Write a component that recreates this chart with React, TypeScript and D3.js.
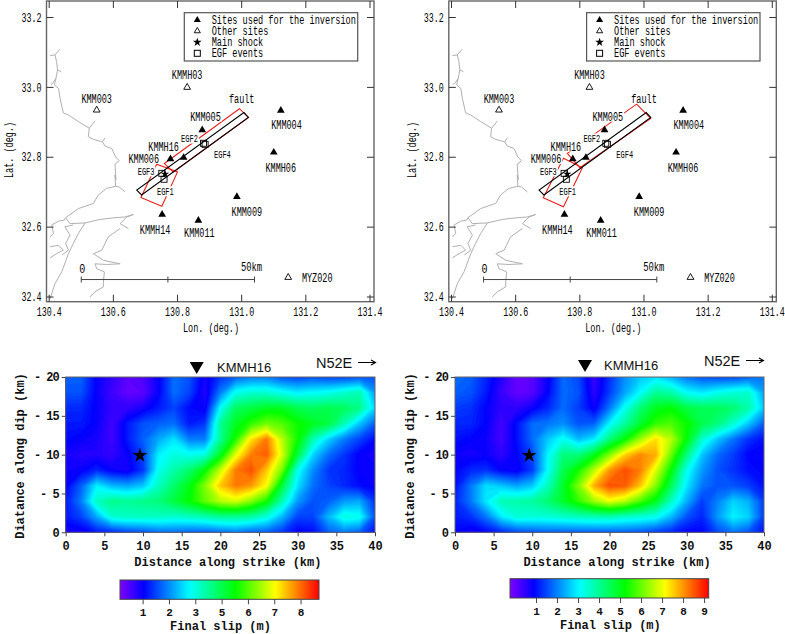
import React, { useEffect, useRef } from "react";
import * as d3 from "d3";

// sites: name, lon, lat, label offset x, label offset y (px)
const usedSites: [string, number, number, number, number][] = [
  ["KMM005", 130.877, 32.878, 3.3, -13.3],
  ["KMM004", 131.122, 32.934, 5.7, 14],
  ["KMMH06", 131.1, 32.814, 7, 15],
  ["KMMH16", 130.819, 32.799, -20, -11],
  ["KMM006", 130.778, 32.795, -26.7, 0],
  ["KMM009", 130.985, 32.687, 10, 14.7],
  ["KMMH14", 130.752, 32.636, -7, 15],
  ["KMM011", 130.865, 32.619, 1, 12],
];
const otherSites: [string, number, number, number, number][] = [
  ["KMM003", 130.548, 32.935, 0, -11.7],
  ["KMMH03", 130.83, 33.0, 0, -13],
  ["MYZ020", 131.145, 32.456, 29, 0],
];
const egfEvents: [string, number, number, number, number][] = [
  ["EGF1", 130.758, 32.737, 1.3, 12],
  ["EGF2", 130.881, 32.84, -14, -4.7],
  ["EGF3", 130.751, 32.754, -15.7, -2],
  ["EGF4", 130.886, 32.837, 17.3, 9.7],
];
const mainShock = [130.761, 32.752];
const faultBox = [[130.673, 32.706], [130.688, 32.692], [131.021, 32.914], [131.007, 32.928]];
const asperityLeftA = [[130.759, 32.782], [130.993, 32.939], [131.021, 32.914], [130.787, 32.758]];
const asperityLeftB = [[130.735, 32.78], [130.8, 32.758], [130.751, 32.66], [130.686, 32.685]];
const asperityRightA = [[130.761, 32.811], [130.977, 32.952], [131.021, 32.911], [130.8, 32.77]];
const asperityRightB = [[130.749, 32.797], [130.808, 32.77], [130.749, 32.658], [130.686, 32.684]];

const legendLabels = ["Sites used for the inversion", "Other sites", "Main shock", "EGF events"];
const lonTicks = [130.4, 130.6, 130.8, 131.0, 131.2, 131.4];
const latTicks = [32.4, 32.6, 32.8, 33.0, 33.2];

// coastline traces, lon/lat
const coastNorth = [
  [130.433, 33.109], [130.418, 33.093], [130.423, 33.074], [130.426, 33.05], [130.421, 33.026],
  [130.416, 33.007], [130.429, 32.997], [130.434, 32.968], [130.444, 32.927], [130.46, 32.921],
  [130.491, 32.902], [130.525, 32.883], [130.522, 32.859], [130.538, 32.851], [130.566, 32.844],
  [130.574, 32.832], [130.595, 32.825], [130.607, 32.801], [130.618, 32.79], [130.605, 32.78],
  [130.608, 32.736], [130.605, 32.749], [130.607, 32.717], [130.618, 32.715], [130.636, 32.701],
];
const coastNorthBits = [
  [[130.418, 33.093], [130.403, 33.091]],
  [[130.426, 33.05], [130.437, 33.045]],
  [[130.421, 33.026], [130.41, 33.011], [130.405, 33.009]],
  [[130.525, 32.883], [130.543, 32.904]],
  [[130.566, 32.844], [130.574, 32.856]],
];
const coastBay = [
  [130.607, 32.717], [130.579, 32.711], [130.553, 32.692], [130.538, 32.668], [130.491, 32.653],
  [130.451, 32.627], [130.447, 32.62], [130.429, 32.617], [130.408, 32.606], [130.413, 32.582], [130.403, 32.572],
];
const coastAmakusa = [
  [130.451, 32.627], [130.465, 32.61], [130.512, 32.612], [130.558, 32.622], [130.605, 32.627],
  [130.636, 32.629], [130.662, 32.636], [130.642, 32.629], [130.621, 32.61], [130.647, 32.596],
];
const coastWest = [
  [130.512, 32.612], [130.491, 32.582], [130.475, 32.553], [130.46, 32.524], [130.439, 32.472],
  [130.418, 32.438], [130.403, 32.395],
];
const coastIsle = [
  [130.475, 32.606], [130.449, 32.601], [130.465, 32.577], [130.451, 32.553], [130.46, 32.534], [130.44, 32.52],
];
const coastIslet = [
  [130.403, 32.544], [130.429, 32.548], [130.444, 32.534], [130.423, 32.524], [130.403, 32.512],
];
const coastSouth = [
  [130.621, 32.596], [130.584, 32.572], [130.564, 32.534], [130.538, 32.524], [130.569, 32.505],
  [130.621, 32.495], [130.579, 32.493], [130.543, 32.495], [130.548, 32.481], [130.572, 32.472],
  [130.569, 32.443], [130.569, 32.429], [130.543, 32.415], [130.527, 32.4],
];
const coastLines = [coastNorth, ...coastNorthBits, coastBay, coastAmakusa, coastWest, coastIsle, coastIslet, coastSouth];

// final slip on a 2 km grid, rows from 20 km dip down to 0, columns 0 to 40 km along strike
const slipLeft = [
  [1.7, 1.7, 1.0, 0.7, 0.4, 0.5, 1.0, 1.8, 1.6, 0.9, 1.4, 1.7, 1.9, 1.9, 1.6, 1.5, 1.6, 1.5, 1.5, 1.6, 1.6],
  [1.6, 1.6, 1.0, 0.6, 0.35, 0.4, 1.0, 1.8, 1.5, 0.8, 1.9, 2.9, 3.1, 3.1, 2.9, 2.7, 2.8, 2.9, 3.1, 3.3, 2.1],
  [1.3, 1.3, 1.0, 0.7, 0.7, 0.9, 1.2, 1.5, 1.1, 0.95, 2.8, 3.9, 4.1, 4.3, 4.3, 4.0, 3.9, 4.0, 3.9, 3.6, 2.5],
  [1.2, 1.2, 1.0, 0.6, 1.2, 1.6, 1.7, 1.8, 1.2, 1.4, 3.5, 4.3, 4.8, 5.2, 5.0, 4.6, 4.3, 4.1, 3.3, 2.4, 1.7],
  [1.1, 1.0, 0.9, 0.6, 1.2, 1.7, 2.2, 2.6, 1.9, 1.9, 3.5, 4.7, 6.2, 6.9, 5.6, 4.6, 3.3, 2.5, 1.9, 1.5, 1.1],
  [0.9, 0.8, 0.8, 0.7, 1.0, 1.5, 2.7, 3.0, 2.9, 3.0, 4.3, 5.9, 6.9, 7.1, 5.8, 4.1, 2.5, 1.8, 1.4, 1.0, 0.9],
  [0.95, 1.0, 1.3, 1.0, 0.9, 1.4, 2.9, 3.4, 3.8, 4.5, 5.7, 6.9, 7.2, 6.4, 5.2, 2.9, 2.0, 1.4, 1.3, 1.0, 1.0],
  [1.0, 1.7, 2.7, 2.3, 2.2, 2.4, 3.2, 3.8, 4.4, 5.3, 6.4, 6.9, 6.7, 6.0, 4.1, 2.6, 1.8, 1.5, 1.3, 1.1, 1.0],
  [1.2, 1.9, 3.2, 3.6, 3.5, 3.6, 3.7, 4.1, 4.5, 5.1, 5.6, 5.8, 5.3, 4.6, 3.3, 2.1, 1.6, 1.7, 2.1, 2.2, 1.4],
  [1.2, 1.5, 2.2, 3.1, 3.2, 3.2, 3.2, 3.1, 3.2, 3.3, 3.5, 3.5, 3.4, 3.0, 2.3, 1.5, 1.5, 2.3, 3.0, 2.9, 1.6],
  [0.9, 0.9, 1.2, 1.3, 1.5, 1.6, 1.8, 1.8, 1.7, 1.7, 1.8, 1.9, 1.7, 1.7, 1.4, 1.0, 1.1, 1.7, 1.9, 1.7, 1.1],
];
const slipRight = [
  [1.8, 1.7, 1.2, 0.6, 0.0, 0.1, 0.8, 1.8, 1.5, 0.4, 1.3, 2.1, 2.6, 2.8, 2.4, 1.9, 1.6, 1.5, 1.5, 1.7, 1.9],
  [1.7, 1.6, 1.1, 0.4, 0.0, 0.1, 0.9, 1.8, 1.6, 0.5, 1.4, 2.3, 3.1, 4.0, 3.8, 3.1, 2.9, 3.2, 3.4, 3.5, 2.3],
  [1.4, 1.3, 0.9, 0.5, 0.5, 0.8, 1.2, 1.8, 1.4, 0.8, 1.9, 3.2, 4.3, 5.0, 5.2, 4.7, 4.5, 4.5, 4.3, 3.8, 2.6],
  [1.2, 1.2, 0.9, 0.3, 1.0, 1.8, 1.9, 2.1, 1.6, 1.7, 3.0, 3.9, 4.8, 5.6, 5.8, 5.3, 4.6, 4.2, 3.5, 2.6, 1.7],
  [1.0, 0.9, 0.8, 0.3, 1.0, 1.8, 2.6, 3.2, 2.5, 2.9, 4.2, 5.2, 6.4, 7.4, 6.6, 5.2, 3.5, 2.6, 1.9, 1.3, 1.0],
  [0.8, 0.7, 0.8, 0.5, 0.9, 1.5, 3.0, 4.2, 4.2, 5.0, 6.2, 7.5, 8.1, 7.8, 6.0, 4.2, 2.6, 1.8, 1.4, 0.9, 0.8],
  [0.9, 1.2, 1.3, 0.9, 0.8, 1.4, 3.1, 4.6, 5.4, 6.6, 8.0, 8.6, 8.2, 6.9, 5.2, 3.2, 2.2, 1.6, 1.3, 1.0, 0.9],
  [1.0, 1.9, 2.8, 2.6, 2.3, 2.6, 3.6, 4.9, 6.2, 7.8, 8.6, 8.5, 7.6, 6.2, 4.5, 2.9, 1.9, 1.6, 1.6, 1.4, 1.0],
  [1.2, 1.9, 2.9, 3.7, 3.8, 3.9, 4.3, 4.9, 5.6, 6.4, 7.0, 6.6, 5.8, 5.0, 3.6, 2.4, 1.4, 2.0, 2.7, 2.4, 1.4],
  [1.1, 1.3, 1.9, 2.9, 3.4, 3.4, 3.4, 3.5, 3.6, 3.7, 3.7, 3.5, 3.4, 3.2, 2.5, 1.6, 1.2, 2.2, 3.0, 2.7, 1.4],
  [0.9, 0.7, 0.9, 1.2, 1.5, 1.6, 1.7, 1.7, 1.7, 1.7, 1.7, 1.7, 1.6, 1.4, 1.2, 0.9, 0.9, 1.5, 1.9, 1.6, 1.0],
];

const strikeTicks = [0, 5, 10, 15, 20, 25, 30, 35, 40];
const dipTicks = [0, 5, 10, 15, 20];
// the left colour bar really is labelled 1 2 3 5 6 7 8
const barTicksLeft = [1, 2, 3, 4, 5, 6, 7];
const barLabelsLeft = ["1", "2", "3", "5", "6", "7", "8"];
const barTicksRight = [1, 2, 3, 4, 5, 6, 7, 8, 9];
const barLabelsRight = ["1", "2", "3", "4", "5", "6", "7", "8", "9"];
const rampStops = [0, 0.12, 0.35, 0.58, 0.78, 1];
const rampColors = ["#8000ff", "#0000ff", "#00ffff", "#00ff00", "#ffff00", "#ff0000"];

const FRAME = "#666";
const MONO = "'Liberation Mono', monospace";
const SANS = "'Liberation Sans', Arial, sans-serif";

type Sel = d3.Selection<any, any, any, any>;

const squeezed = (g: Sel, s: string, x: number, y: number, size = 12, anchor = "middle", adv = 5.1) =>
  g.append("text").attr("x", x).attr("y", y).attr("dy", "0.35em").attr("text-anchor", anchor)
    .attr("font-family", MONO).attr("font-size", size)
    .attr("textLength", s.length * adv).attr("lengthAdjust", "spacingAndGlyphs").text(s);

function drawMap(svg: Sel, dx: number, frameRight: number, boxes: number[][][]) {
  const x = d3.scaleLinear().domain([130.4, 131.4]).range([49.2 + dx, 370 + dx]);
  const y = d3.scaleLinear().domain([33.2, 32.4]).range([17.5, 297]);
  const left = 46.5 + dx, top = 1, bottom = 301.7;
  const g = svg.append("g");
  const pt = (d: number[]): [number, number] => [x(d[0]), y(d[1])];
  const line = d3.line<number[]>().x((d) => x(d[0])).y((d) => y(d[1]));

  g.selectAll(null).data(coastLines).join("path").attr("d", (d: any) => line(d))
    .attr("fill", "none").attr("stroke", "#b0b0b0").attr("stroke-width", 1);

  boxes.forEach((b) =>
    g.append("path").attr("d", line(b) + "Z").attr("fill", "none").attr("stroke", "#e8201c").attr("stroke-width", 1.1));

  // site labels have a white box behind them, it cuts the red outlines
  const label = (s: string, cx: number, cy: number, size = 12, adv = 5.1) => {
    const w = s.length * adv;
    g.append("rect").attr("x", cx - w / 2 - 1).attr("y", cy - 5).attr("width", w + 2).attr("height", 10).attr("fill", "#fff");
    squeezed(g, s, cx, cy, size, "middle", adv);
  };
  [...usedSites, ...otherSites].forEach((d) => label(d[0], x(d[1]) + d[3], y(d[2]) + d[4]));
  egfEvents.forEach((d) => label(d[0], x(d[1]) + d[3], y(d[2]) + d[4], 10, 4.2));
  label("fault", x(faultBox[2][0]) - 6.7, y(faultBox[2][1]) - 19);

  g.append("path").attr("d", line(faultBox) + "Z").attr("fill", "none").attr("stroke", "#000").attr("stroke-width", 1.1);

  const tri = d3.symbol(d3.symbolTriangle);
  usedSites.forEach((d) => {
    const [px, py] = pt([d[1], d[2]]);
    g.append("path").attr("d", tri.size(26)()).attr("transform", `translate(${px},${py})`).attr("fill", "#000");
  });
  otherSites.forEach((d) => {
    const [px, py] = pt([d[1], d[2]]);
    g.append("path").attr("d", tri.size(20)()).attr("transform", `translate(${px},${py})`)
      .attr("fill", "#fff").attr("stroke", "#000").attr("stroke-width", 0.9);
  });
  egfEvents.forEach((d) => {
    const [px, py] = pt([d[1], d[2]]);
    g.append("rect").attr("x", px - 3).attr("y", py - 3).attr("width", 6).attr("height", 6)
      .attr("fill", "none").attr("stroke", "#000").attr("stroke-width", 0.9);
  });
  const [sx, sy] = pt(mainShock);
  g.append("path").attr("d", d3.symbol(d3.symbolStar, 22)()).attr("transform", `translate(${sx},${sy})`).attr("fill", "#000");

  // scale bar
  const barY = y(32.45);
  g.append("path").attr("d", `M${x(130.5)},${barY}H${x(131.04)}`).attr("stroke", "#444").attr("stroke-width", 1);
  [130.5, 130.77, 131.04].forEach((v) =>
    g.append("path").attr("d", `M${x(v)},${barY - 3}V${barY + 3}`).attr("stroke", "#444"));
  squeezed(g, "0", x(130.5) + 1, barY - 11, 12, "middle", 6);
  squeezed(g, "50km", x(131.04) - 3, barY - 13, 12, "middle", 5.3);

  // frame and inward ticks on all sides
  g.append("rect").attr("x", left).attr("y", top).attr("width", frameRight + dx - left).attr("height", bottom - top)
    .attr("fill", "none").attr("stroke", FRAME).attr("stroke-width", 1.4);
  lonTicks.forEach((v) => {
    g.append("path").attr("d", `M${x(v)},${bottom}v-7M${x(v)},${top}v7`).attr("stroke", "#333");
    squeezed(g, v.toFixed(1), x(v), 312, 12, "middle", 5);
  });
  latTicks.forEach((v) => {
    g.append("path").attr("d", `M${left},${y(v)}h7M${frameRight + dx},${y(v)}h-7`).attr("stroke", "#333");
    squeezed(g, v.toFixed(1), left - 5, y(v), 12, "end", 5);
  });
  squeezed(g, "Lon. (deg.)", 211 + dx, 328, 12, "middle", 5.1);
  squeezed(g, "Lat. (deg.)", 0, 0, 12, "middle", 5.1).attr("transform", `translate(${9 + dx},150) rotate(-90)`);

  // legend
  const lg = g.append("g").attr("transform", `translate(${184.3 + dx},12.7)`);
  lg.append("rect").attr("width", 173.4).attr("height", 48.3).attr("fill", "#fff").attr("stroke", "#555").attr("stroke-width", 1.2);
  const rows = [7.3, 18.3, 29.6, 40.6];
  legendLabels.forEach((s, i) => squeezed(lg, s, 27.4, rows[i], 12, "start", 5.15));
  lg.append("path").attr("d", tri.size(22)()).attr("transform", `translate(13,${rows[0]})`).attr("fill", "#000");
  lg.append("path").attr("d", tri.size(16)()).attr("transform", `translate(13,${rows[1]})`).attr("fill", "#fff").attr("stroke", "#000").attr("stroke-width", 0.9);
  lg.append("path").attr("d", d3.symbol(d3.symbolStar, 24)()).attr("transform", `translate(13,${rows[2]})`).attr("fill", "#000");
  lg.append("rect").attr("x", 10).attr("y", rows[3] - 3).attr("width", 6).attr("height", 6).attr("fill", "none").attr("stroke", "#000");
}

function drawSlip(svg: Sel, id: string, opt: {
  left: number; right: number; grid: number[][]; domain: [number, number];
  ticks: number[]; labels: string[]; barLeft: number; barRight: number; barTop: number;
  markX: number; markY: number; nameX: number; nameY: number; dirX: number; dirY: number;
}) {
  const { left, right, grid, domain } = opt;
  const top = 377, bottom = 532.3;
  const x = d3.scaleLinear().domain([0, 40]).range([left, right]);
  const y = d3.scaleLinear().domain([0, 20]).range([bottom, top]);
  const color = d3.scaleLinear<string>()
    .domain(rampStops.map((t) => domain[0] + t * (domain[1] - domain[0])))
    .range(rampColors).interpolate(d3.interpolateRgb).clamp(true);

  const g = svg.append("g");
  const defs = g.append("defs");
  defs.append("clipPath").attr("id", id).append("rect").attr("x", left).attr("y", top).attr("width", right - left).attr("height", bottom - top);

  const nx = grid[0].length, ny = grid.length;
  const step = (domain[1] - domain[0]) / 120;
  const thresholds = d3.range(domain[0], domain[1], step);
  const contours = d3.contours().size([nx, ny]).thresholds(thresholds)(grid.flat());
  // grid node i sits at contour coordinate i + 0.5
  const path = d3.geoPath(d3.geoTransform({
    point(px: number, py: number) {
      (this as any).stream.point(x((px - 0.5) * 2), y(20 - (py - 0.5) * 2));
    },
  }));
  const heat = g.append("g").attr("clip-path", `url(#${id})`);
  heat.append("rect").attr("x", left).attr("y", top).attr("width", right - left).attr("height", bottom - top).attr("fill", color(domain[0]));
  heat.selectAll("path").data(contours).join("path").attr("d", (d: any) => path(d)).attr("fill", (d: any) => color(d.value + step / 2));

  g.append("rect").attr("x", left).attr("y", top).attr("width", right - left).attr("height", bottom - top)
    .attr("fill", "none").attr("stroke", FRAME).attr("stroke-width", 1);

  const tickText = (sel: Sel) => sel.attr("font-family", MONO).attr("font-size", 12).attr("font-weight", "bold").attr("fill", "#111");
  const xAxis = g.append("g").attr("transform", `translate(0,${bottom})`)
    .call(d3.axisBottom(x).tickValues(strikeTicks).tickSize(4).tickPadding(5).tickFormat((d: any) => String(d)) as any);
  const yAxis = g.append("g").attr("transform", `translate(${left},0)`)
    .call(d3.axisLeft(y).tickValues(dipTicks).tickSize(4).tickPadding(3).tickFormat((d: any) => (d === 0 ? "0" : "- " + d)) as any);
  [xAxis, yAxis].forEach((a) => {
    a.select(".domain").remove();
    a.selectAll("line").attr("stroke", "#444");
    tickText(a.selectAll("text") as any);
    a.attr("font-family", null).attr("font-size", null);
  });
  yAxis.selectAll("text").attr("letter-spacing", -1);

  const title = (s: string, px: number, py: number, rot = 0) =>
    g.append("text").attr("transform", `translate(${px},${py}) rotate(${rot})`).attr("text-anchor", "middle")
      .attr("font-family", MONO).attr("font-size", 12).attr("font-weight", "bold").attr("fill", "#111").text(s);
  title("Distance along strike (km)", (left + right) / 2 + 7.5, 566);
  title("Diatance along dip (km)", left - 41.5, 456, -90);

  g.append("path").attr("d", d3.symbol(d3.symbolStar, 68)())
    .attr("transform", `translate(${x(9.6)},${y(9.9)})`).attr("fill", "#000");

  g.append("path").attr("d", d3.symbol(d3.symbolTriangle, 85)())
    .attr("transform", `translate(${opt.markX},${opt.markY}) rotate(180)`).attr("fill", "#000");
  g.append("text").attr("x", opt.nameX).attr("y", opt.nameY).attr("font-family", SANS).attr("font-size", 13).attr("fill", "#111").text("KMMH16");
  g.append("text").attr("x", opt.dirX).attr("y", opt.dirY).attr("font-family", SANS).attr("font-size", 14.5).attr("fill", "#111").text("N52E");
  const ax = opt.dirX + 42, ay = opt.dirY - 5.5;
  g.append("path").attr("d", `M${ax},${ay}h17M${ax + 13},${ay - 2.5}l4.5,2.5l-4.5,2.5`).attr("fill", "none").attr("stroke", "#000").attr("stroke-width", 1.1);

  // colour bar
  const bar = d3.scaleLinear().domain(domain).range([opt.barLeft, opt.barRight]);
  const gradId = id + "-bar";
  const grad = defs.append("linearGradient").attr("id", gradId);
  d3.range(0, 1.0001, 0.02).forEach((t) =>
    grad.append("stop").attr("offset", t).attr("stop-color", color(domain[0] + t * (domain[1] - domain[0]))));
  const h = 19.3;
  g.append("rect").attr("x", opt.barLeft).attr("y", opt.barTop).attr("width", opt.barRight - opt.barLeft).attr("height", h)
    .attr("fill", `url(#${gradId})`).attr("stroke", "#444").attr("stroke-width", 1);
  const barAxis = g.append("g").attr("transform", `translate(0,${opt.barTop + h})`)
    .call(d3.axisBottom(bar).tickValues(opt.ticks).tickSize(5).tickPadding(4).tickFormat((_: any, i: number) => opt.labels[i]) as any);
  barAxis.select(".domain").remove();
  barAxis.selectAll("line").attr("stroke", "#444");
  tickText(barAxis.selectAll("text") as any).attr("font-size", 11);
  title("Final slip (m)", (opt.barLeft + opt.barRight) / 2 + 1, opt.barTop + 50);
}

export default function App() {
  const ref = useRef<SVGSVGElement | null>(null);

  useEffect(() => {
    const svg = d3.select(ref.current);
    svg.selectAll("*").remove();
    drawMap(svg, 0, 374, [asperityLeftA, asperityLeftB]);
    drawMap(svg, 402.3, 374, [asperityRightA, asperityRightB]);
    drawSlip(svg, "slip-a", {
      left: 65.7, right: 375, grid: slipLeft, domain: [0.14, 7.7], ticks: barTicksLeft, labels: barLabelsLeft,
      barLeft: 120, barRight: 319, barTop: 580, markX: 196.7, markY: 366, nameX: 217, nameY: 372,
      dirX: 316, dirY: 368,
    });
    drawSlip(svg, "slip-b", {
      left: 455, right: 764, grid: slipRight, domain: [-0.24, 9.22], ticks: barTicksRight, labels: barLabelsRight,
      barLeft: 510, barRight: 708.7, barTop: 578.7, markX: 585, markY: 364, nameX: 604, nameY: 370,
      dirX: 704, dirY: 366,
    });
  }, []);

  return (
    <svg ref={ref} width={785} height={634} style={{ position: "absolute", left: 0, top: 0, background: "#fff" }} />
  );
}
